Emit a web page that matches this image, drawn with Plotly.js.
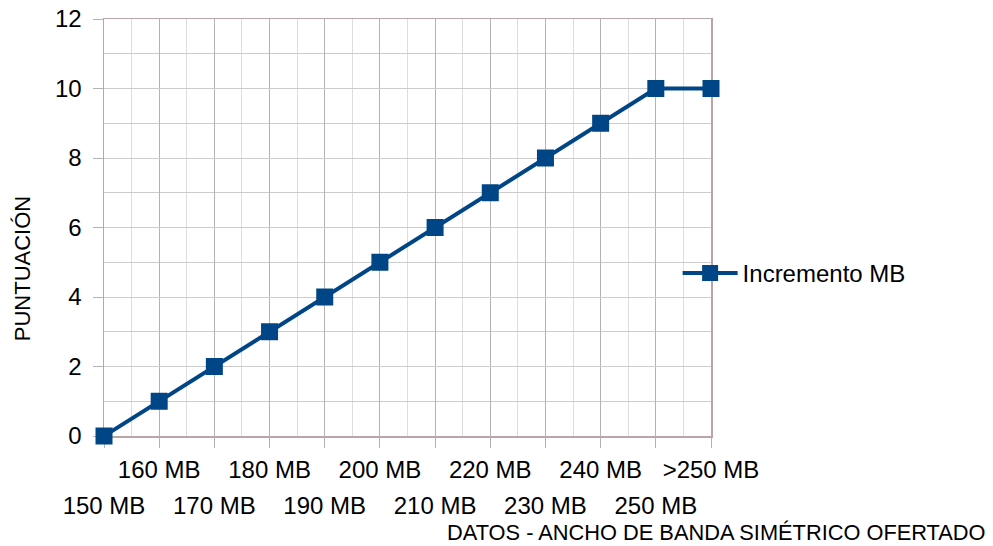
<!DOCTYPE html>
<html>
<head>
<meta charset="utf-8">
<script src="https://cdn.plot.ly/plotly-3.0.1.min.js"></script>
<style>html,body{margin:0;padding:0;background:#fff;}#chart{width:993px;height:546px;}</style>
</head>
<body>
<div id="chart"></div>
<script>
const categories = ["150 MB","160 MB","170 MB","180 MB","190 MB","200 MB","210 MB","220 MB","230 MB","240 MB","250 MB",">250 MB"];
const puntuacion = [0,1,2,3,4,5,6,7,8,9,10,10];
const seriesName = "Incremento MB";
const xTitle = "DATOS - ANCHO DE BANDA SIMÉTRICO OFERTADO";
const yTitle = "PUNTUACIÓN";

const idx = categories.map((c,i)=>i);
const lowerVals = idx.filter(i=>i%2===0);

const FONT = "Liberation Sans, Arial, sans-serif";
const axisLine = "#b9a5a5";

const trace = {
  x: idx, y: puntuacion, name: seriesName, type: "scatter", mode: "lines+markers",
  line: {color: "#004586", width: 4},
  marker: {symbol: "square", size: 17, color: "#004586"},
  cliponaxis: false, hoverinfo: "x+y"
};
// carrier for the second (lower) row of category labels; draws nothing visible
const labelCarrier = {
  x: lowerVals, y: lowerVals.map(i => puntuacion[i]), xaxis: "x2", yaxis: "y",
  type: "scatter", mode: "markers", marker: {opacity: 0, size: 1},
  showlegend: false, hoverinfo: "skip"
};

const layout = {
  width: 993, height: 546,
  margin: {l: 104, r: 282, t: 19, b: 110},
  paper_bgcolor: "#fff", plot_bgcolor: "#fff",
  font: {family: FONT, size: 24, color: "#000"},
  showlegend: true,
  legend: {x: 0.945, xanchor: "left", y: 0.39, yanchor: "middle", font: {size: 24}, itemwidth: 55, bgcolor: "rgba(0,0,0,0)"},
  xaxis: {
    range: [0, 11], tickmode: "array", tickvals: idx,
    ticktext: idx.map(i => i%2===1 ? categories[i] : ""),
    ticks: "outside", ticklen: 10, tickcolor: "#b3b3b3", tickwidth: 1,
    showline: true, linecolor: axisLine, linewidth: 1.5, mirror: true,
    showgrid: true, gridcolor: "#b3b3b3", gridwidth: 1,
    minor: {dtick: 0.5, tick0: 0, showgrid: true, gridcolor: "#dddddd", gridwidth: 1, ticks: ""},
    zeroline: false, tickfont: {size: 24}, ticklabelstandoff: 2, layer: "below traces"
  },
  xaxis2: {
    overlaying: "x", anchor: "y", side: "bottom",
    range: [0, 11], tickmode: "array", tickvals: lowerVals,
    ticktext: lowerVals.map(i => categories[i]),
    ticks: "", showline: false, showgrid: false, zeroline: false,
    tickfont: {size: 24}, ticklabelstandoff: 53
  },
  yaxis: {
    range: [0, 12], dtick: 2, tick0: 0,
    ticks: "outside", ticklen: 10, tickcolor: "#b3b3b3",
    showline: true, linecolor: axisLine, linewidth: 1.5, mirror: true,
    showgrid: true, gridcolor: "#cccccc", gridwidth: 1,
    minor: {dtick: 1, showgrid: true, gridcolor: "#cccccc", gridwidth: 1, ticks: ""},
    zeroline: false, tickfont: {size: 24}, ticklabelstandoff: 6, layer: "below traces"
  },
  annotations: [
    {text: xTitle, xref: "paper", yref: "paper", x: 1.456, y: -0.232, xanchor: "right", yanchor: "middle", showarrow: false, font: {size: 21.8}},
    {text: yTitle, xref: "paper", yref: "paper", x: -0.135, y: 0.40, xanchor: "center", yanchor: "middle", textangle: -90, showarrow: false, font: {size: 22}}
  ]
};

Plotly.newPlot("chart", [trace, labelCarrier], layout, {displayModeBar: false, staticPlot: true});
</script>
</body>
</html>
